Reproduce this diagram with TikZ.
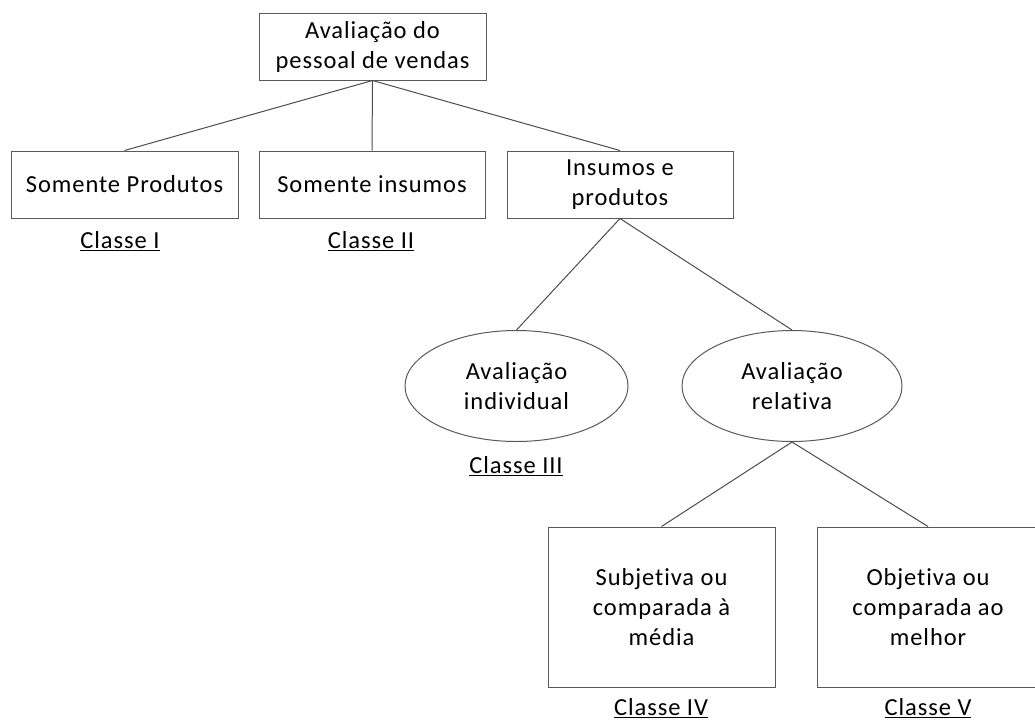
\documentclass[tikz,border=0pt]{standalone}
\usepackage{fontspec}
\setmainfont{Carlito}[LetterSpace=3.8, Ligatures=NoCommon]
\usetikzlibrary{shapes.geometric}
\tikzset{
  frame/.style={draw=black!65, line width=1pt},
  txt/.style={font=\fontsize{24.5}{30}\selectfont},
  rbox/.style={frame, txt, rectangle, inner sep=0pt, align=center},
  ebox/.style={frame, txt, ellipse, inner sep=0pt, align=center},
  cls/.style={txt, inner sep=0pt},
  link/.style={draw=black!70, line width=1pt},
}
\begin{document}
\begin{tikzpicture}[x=1pt,y=-1pt]
\clip (0,0) rectangle (1035,720);
\useasboundingbox (0,0) rectangle (1035,720);
\node[rbox, minimum width=227pt, minimum height=67pt] (top) at (372.5,46.5) {Avaliação do\\pessoal de vendas};
\node[rbox, minimum width=227pt, minimum height=67pt] (b1) at (124.5,184.5) {Somente Produtos};
\node[rbox, minimum width=226pt, minimum height=67pt] (b2) at (372,184.5) {Somente insumos};
\node[rbox, minimum width=226pt, minimum height=67pt] (b3) at (620,184.5) {Insumos e\\produtos};
\node[ebox, minimum width=223pt, minimum height=111pt] (e1) at (516.5,386) {Avaliação\\individual};
\node[ebox, minimum width=220pt, minimum height=111pt] (e2) at (792,386) {Avaliação\\relativa};
\node[rbox, minimum width=227pt, minimum height=160pt] (b4) at (661.5,607) {Subjetiva ou\\comparada à\\média};
\node[rbox, minimum width=222pt, minimum height=160pt] (b5) at (928,607) {Objetiva ou\\comparada ao\\melhor};
\node[cls] (c1) at (120,241) {\underline{Classe I}};
\node[cls] (c2) at (371,241) {\underline{Classe II}};
\node[cls] (c3) at (516,466) {\underline{Classe III}};
\node[cls] (c4) at (661,708) {\underline{Classe IV}};
\node[cls] (c5) at (928,708) {\underline{Classe V}};
\draw[link] (top.south) -- (b1.north);
\draw[link] (top.south) -- (b2.north);
\draw[link] (top.south) -- (b3.north);
\draw[link] (b3.south) -- (e1.north);
\draw[link] (b3.south) -- (e2.north);
\draw[link] (e2.south) -- (b4.north);
\draw[link] (e2.south) -- (b5.north);
\end{tikzpicture}
\end{document}
